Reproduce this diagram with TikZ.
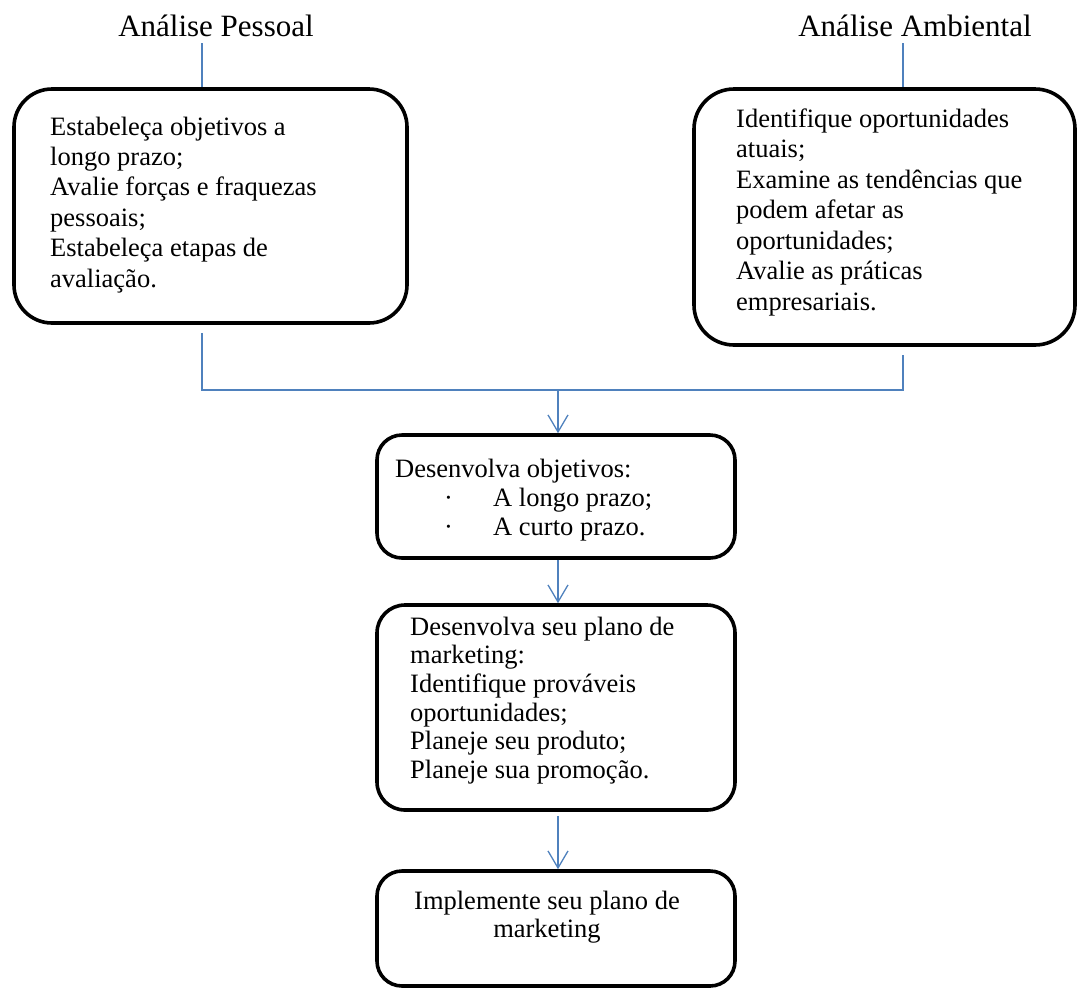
\documentclass[tikz,border=0pt]{standalone}
\usepackage{fontspec}
\setmainfont{Liberation Serif}
\usetikzlibrary{arrows.meta}
\definecolor{connblue}{RGB}{79,129,189}
\begin{document}
\begin{tikzpicture}[x=1pt,y=-1pt,
  box/.style={draw=black, line width=3.6pt, rounded corners=#1, fill=white, inner sep=0pt},
  box/.default=30pt,
  title/.style={font=\fontsize{31}{36}\selectfont, inner sep=0pt, anchor=base},
  txt/.style={align=left, inner sep=0pt, anchor=north west},
  ctxt/.style={align=center, inner sep=0pt, anchor=north},
  conn/.style={draw=connblue, line width=1.3pt},
  arr/.style={conn, -{Straight Barb[length=17pt,width=20pt]}}]
\useasboundingbox (0,0) rectangle (1079,989);

% titles
\node[title] (t1) at (216,36) {Análise Pessoal};
\node[title] (t2) at (915,36) {Análise Ambiental};

% boxes
\node[box=38pt, minimum width=393pt, minimum height=234pt] (b1) at (210.5,206) {};
\node[box=40pt, minimum width=381pt, minimum height=256pt] (b2) at (884.5,217) {};
\node[box=25pt, minimum width=358pt, minimum height=123pt] (b3) at (556,496.5) {};
\node[box=28pt, minimum width=358pt, minimum height=205pt] (b4) at (556,707.5) {};
\node[box=25pt, minimum width=358pt, minimum height=115pt] (b5) at (556,928.5) {};

% texts
\node[txt, font=\fontsize{26.5}{30.4}\selectfont] (x1) at (50,113.7)
  {\strut Estabeleça objetivos a\\longo prazo;\\Avalie forças e fraquezas\\pessoais;\\Estabeleça etapas de\\avaliação.};
\node[txt, font=\fontsize{26.5}{30.5}\selectfont] (x2) at (736,105.65)
  {\strut Identifique oportunidades\\atuais;\\Examine as tendências que\\podem afetar as\\oportunidades;\\Avalie as práticas\\empresariais.};
\node[txt, font=\fontsize{26.5}{29}\selectfont] (x3) at (395,456.7)
  {\strut Desenvolva objetivos:\\\makebox[98pt][l]{\hspace*{49pt}·}A longo prazo;\\\makebox[98pt][l]{\hspace*{49pt}·}A curto prazo.};
\node[txt, font=\fontsize{26.5}{28.6}\selectfont] (x4) at (410,615)
  {\strut Desenvolva seu plano de\\marketing:\\Identifique prováveis\\oportunidades;\\Planeje seu produto;\\Planeje sua promoção.};
\node[ctxt, font=\fontsize{26.5}{28}\selectfont] (x5) at (547,889.4)
  {\strut Implemente seu plano de\\marketing};

% connectors
\coordinate (jl) at (202,390);
\coordinate (jr) at (903,390);
\coordinate (jm) at (558,390);
\draw[conn] ([yshift=-7pt]t1.base -| jl) -- (b1.north -| jl);
\draw[conn] ([yshift=-7pt]t2.base -| jr) -- (b2.north -| jr);
\draw[conn] ([yshift=-8pt]b1.south -| jl) -- (jl) -- (jr) -- ([yshift=-8pt]b2.south -| jr);
\draw[arr] (jm) -- (b3.north -| jm);
\draw[arr] (b3.south -| jm) -- (b4.north -| jm);
\draw[arr] ([yshift=-4pt]b4.south -| jm) -- (b5.north -| jm);
\end{tikzpicture}
\end{document}
